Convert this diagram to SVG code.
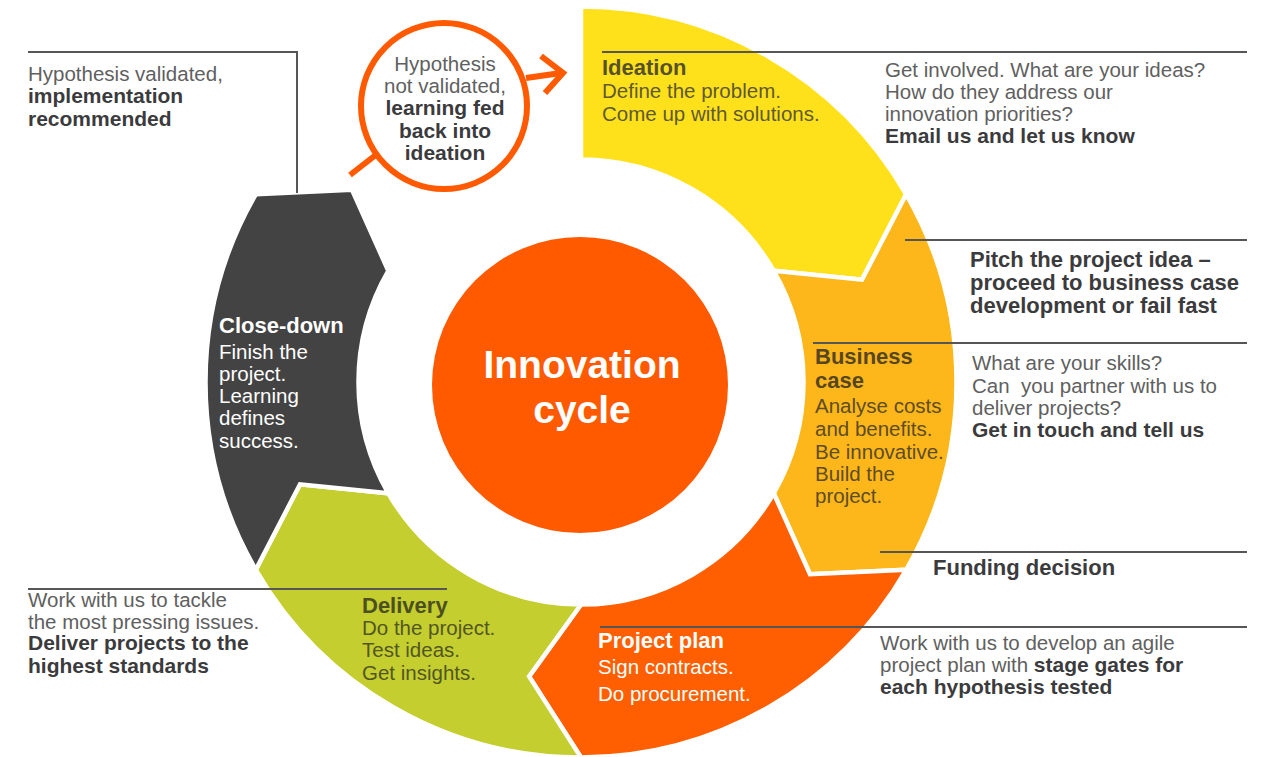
<svg xmlns="http://www.w3.org/2000/svg" width="1266" height="757" viewBox="0 0 1266 757">
<style>
text{font-family:"Liberation Sans",Arial,Helvetica,sans-serif;}
.seg{stroke:#ffffff;stroke-width:4.5;stroke-linejoin:miter}
.r{font-size:20.5px;fill:#606060}
.b{font-size:21px;font-weight:bold;fill:#3b3b3d}
.t{font-size:22px;font-weight:bold}
.s{font-size:20.5px}
.ln{stroke:#565656;stroke-width:2;fill:none}
.mg{stroke:#FF5A00;stroke-width:6;fill:none}
</style>
<rect x="0" y="0" width="1266" height="757" fill="#ffffff"/>

<g id="ideation">
<path class="seg" fill="#FFE11B" d="M581,6.5 A375.5,375.5 0 0 1 906.2,194.25 L862,279.7 L773.7,270.75 A222.5,222.5 0 0 0 581,159.5 Z"/>
<text x="602" y="75" class="t" fill="#57512b">Ideation</text>
<text x="602" y="98" class="s" fill="#5f5930">Define the problem.</text>
<text x="602" y="121" class="s" fill="#5f5930">Come up with solutions.</text>
</g>

<g id="business-case">
<path class="seg" fill="#FDB71B" d="M906.2,194.25 A375.5,375.5 0 0 1 906.2,569.75 L810,574.2 L773.7,493.25 A222.5,222.5 0 0 0 773.7,270.75 L862,279.7 Z"/>
<text x="815" y="364" class="t" fill="#574622">Business</text>
<text x="815" y="388" class="t" fill="#574622">case</text>
<text x="815" y="413" class="s" fill="#5e4c24">Analyse costs</text>
<text x="815" y="436" class="s" fill="#5e4c24">and benefits.</text>
<text x="815" y="459" class="s" fill="#5e4c24">Be innovative.</text>
<text x="815" y="481" class="s" fill="#5e4c24">Build the</text>
<text x="815" y="503" class="s" fill="#5e4c24">project.</text>
</g>

<g id="project-plan">
<path class="seg" fill="#FF5F00" d="M906.2,569.75 A375.5,375.5 0 0 1 581,757.5 L529.1,676.4 L581,604.5 A222.5,222.5 0 0 0 773.7,493.25 L810,574.2 Z"/>
<text x="598" y="648" class="t" fill="#ffffff">Project plan</text>
<text x="598" y="674" class="s" fill="#ffffff">Sign contracts.</text>
<text x="598" y="701" class="s" fill="#ffffff">Do procurement.</text>
</g>

<g id="delivery">
<path class="seg" fill="#C4CE2E" d="M581,757.5 A375.5,375.5 0 0 1 255.8,569.75 L300,484.3 L388.3,493.25 A222.5,222.5 0 0 0 581,604.5 L529.1,676.4 Z"/>
<text x="362" y="613" class="t" fill="#4c4f22">Delivery</text>
<text x="362" y="635" class="s" fill="#535624">Do the project.</text>
<text x="362" y="657" class="s" fill="#535624">Test ideas.</text>
<text x="362" y="680" class="s" fill="#535624">Get insights.</text>
</g>

<g id="close-down">
<path class="seg" fill="#434343" d="M255.8,569.75 A375.5,375.5 0 0 1 255.8,194.25 L352,189.8 L388.3,270.75 A222.5,222.5 0 0 0 388.3,493.25 L300,484.3 Z"/>
<text x="219" y="333" class="t" fill="#ffffff">Close-down</text>
<text x="219" y="359" class="s" fill="#ffffff">Finish the</text>
<text x="219" y="381" class="s" fill="#ffffff">project.</text>
<text x="219" y="403" class="s" fill="#ffffff">Learning</text>
<text x="219" y="425" class="s" fill="#ffffff">defines</text>
<text x="219" y="448" class="s" fill="#ffffff">success.</text>
</g>

<g id="connectors">
<path class="ln" d="M28,52 H297 V193"/>
<line class="ln" x1="602" y1="52" x2="1247" y2="52"/>
<line class="ln" x1="905" y1="240" x2="1247" y2="240"/>
<line class="ln" x1="813" y1="343" x2="1247" y2="343"/>
<line class="ln" x1="880" y1="552" x2="1247" y2="552"/>
<line class="ln" x1="600" y1="627" x2="1247" y2="627"/>
<line class="ln" x1="28" y1="589" x2="447" y2="589"/>
</g>

<g id="center">
<circle cx="580" cy="385" r="148" fill="#FF5A00"/>
<text x="582" y="378" text-anchor="middle" font-size="39" font-weight="bold" fill="#ffffff">Innovation</text>
<text x="582" y="423" text-anchor="middle" font-size="39" font-weight="bold" fill="#ffffff">cycle</text>
</g>

<g id="magnifier">
<circle class="mg" cx="444" cy="106" r="83"/>
<line class="mg" x1="377" y1="154" x2="350" y2="175"/>
<line class="mg" x1="526" y1="78" x2="561" y2="73"/>
<polyline class="mg" points="541,56 563,73 545,93"/>
<text x="445" y="71" text-anchor="middle" class="r">Hypothesis</text>
<text x="445" y="93" text-anchor="middle" class="r">not validated,</text>
<text x="445" y="115" text-anchor="middle" class="b">learning fed</text>
<text x="445" y="138" text-anchor="middle" class="b">back into</text>
<text x="445" y="160" text-anchor="middle" class="b">ideation</text>
</g>

<g id="note-validated">
<text x="28" y="81" class="r">Hypothesis validated,</text>
<text x="28" y="103" class="b">implementation</text>
<text x="28" y="126" class="b">recommended</text>
</g>

<g id="note-ideas">
<text x="885" y="77" class="r">Get involved. What are your ideas?</text>
<text x="885" y="99" class="r">How do they address our</text>
<text x="885" y="121" class="r">innovation priorities?</text>
<text x="885" y="143" class="b">Email us and let us know</text>
</g>

<g id="note-pitch">
<text x="970" y="267" class="t" fill="#3b3b3d">Pitch the project idea –</text>
<text x="970" y="290" class="t" fill="#3b3b3d">proceed to business case</text>
<text x="970" y="313" class="t" fill="#3b3b3d">development or fail fast</text>
</g>

<g id="note-skills">
<text x="972" y="370" class="r">What are your skills?</text>
<text x="972" y="393" class="r" xml:space="preserve">Can  you partner with us to</text>
<text x="972" y="415" class="r">deliver projects?</text>
<text x="972" y="437" class="b">Get in touch and tell us</text>
</g>

<g id="note-funding">
<text x="933" y="575" class="t" fill="#3b3b3d">Funding decision</text>
</g>

<g id="note-agile">
<text x="880" y="650" class="r">Work with us to develop an agile</text>
<text x="880" y="672" class="r">project plan with <tspan class="b">stage gates for</tspan></text>
<text x="880" y="694" class="b">each hypothesis tested</text>
</g>

<g id="note-delivery">
<text x="28" y="607" class="r">Work with us to tackle</text>
<text x="28" y="629" class="r">the most pressing issues.</text>
<text x="28" y="650" class="b">Deliver projects to the</text>
<text x="28" y="673" class="b">highest standards</text>
</g>
</svg>
